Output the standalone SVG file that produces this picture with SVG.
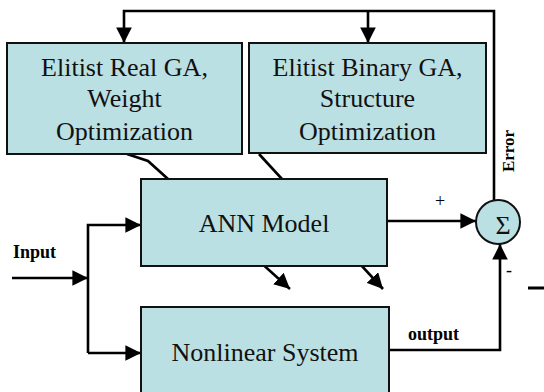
<svg xmlns="http://www.w3.org/2000/svg" width="544" height="392" viewBox="0 0 544 392">
  <style>
    .box { fill: #BBE0E3; stroke: #111; stroke-width: 2; }
    .wire { fill: none; stroke: #000; stroke-width: 2.6; }
    .lbl { font-family: "Liberation Serif", "Times New Roman", serif; font-size: 26px; fill: #111; text-anchor: middle; }
    .small { font-family: "Liberation Serif", "Times New Roman", serif; font-size: 18px; font-weight: bold; fill: #000; }
    .sign { font-family: "Liberation Serif", "Times New Roman", serif; font-size: 18px; fill: #000; }
  </style>
  <defs>
    <marker id="arrow" viewBox="0 0 10 10" refX="10" refY="5" markerWidth="6" markerHeight="6" markerUnits="strokeWidth" orient="auto">
      <path d="M0,0 L10,5 L0,10 Z" fill="#000"/>
    </marker>
  </defs>

  <rect width="544" height="392" fill="#fff"/>

  <!-- adaptation lines passing under the ANN block -->
  <g id="adaptation">
    <polyline class="wire" points="127,154 148,161 290,289" marker-end="url(#arrow)"/>
    <polyline class="wire" points="259,154 383,289" marker-end="url(#arrow)"/>
  </g>

  <!-- connectors -->
  <g id="connectors">
    <!-- error feedback to both optimizers -->
    <polyline class="wire" points="494,200 494,11 124,11 124,43" marker-end="url(#arrow)"/>
    <line class="wire" x1="368" y1="11" x2="368" y2="43" marker-end="url(#arrow)"/>
    <!-- input split -->
    <line class="wire" x1="12" y1="278" x2="88" y2="278" marker-end="url(#arrow)"/>
    <polyline class="wire" points="88,353 88,225 141,225" marker-end="url(#arrow)"/>
    <line class="wire" x1="88" y1="353" x2="141" y2="353" marker-end="url(#arrow)"/>
    <!-- model output to summing junction -->
    <line class="wire" x1="387" y1="221" x2="476" y2="221" marker-end="url(#arrow)"/>
    <!-- plant output to summing junction -->
    <polyline class="wire" points="389,350 500,350 500,244" marker-end="url(#arrow)"/>
  </g>

  <g id="real-ga">
    <rect class="box" x="7" y="43" width="235" height="111"/>
    <text class="lbl" x="124.5" y="76">Elitist Real GA,</text>
    <text class="lbl" x="124.5" y="107">Weight</text>
    <text class="lbl" x="124.5" y="140">Optimization</text>
  </g>

  <g id="binary-ga">
    <rect class="box" x="249" y="43" width="237" height="110"/>
    <text class="lbl" x="367.5" y="76">Elitist Binary GA,</text>
    <text class="lbl" x="367.5" y="107">Structure</text>
    <text class="lbl" x="367.5" y="140">Optimization</text>
  </g>

  <g id="ann-model">
    <rect class="box" x="141" y="179" width="246" height="87"/>
    <text class="lbl" x="264" y="232">ANN Model</text>
  </g>

  <g id="nonlinear-system">
    <rect class="box" x="141" y="307" width="248" height="100"/>
    <text class="lbl" x="265" y="361">Nonlinear System</text>
  </g>

  <g id="sum">
    <circle cx="498" cy="222" r="22" fill="#BBE0E3" stroke="#111" stroke-width="2"/>
    <text class="lbl" x="503" y="234">Σ</text>
  </g>

  <g id="labels">
    <text class="small" x="13" y="258">Input</text>
    <text class="small" x="408" y="340">output</text>
    <text class="small" transform="translate(514,151) rotate(-90)" text-anchor="middle" style="font-size:17px">Error</text>
    <text class="sign" x="440" y="207" text-anchor="middle">+</text>
    <text class="sign" x="509" y="276" text-anchor="middle">-</text>
    <line x1="528" y1="288" x2="544" y2="288" stroke="#000" stroke-width="3"/>
  </g>
</svg>
